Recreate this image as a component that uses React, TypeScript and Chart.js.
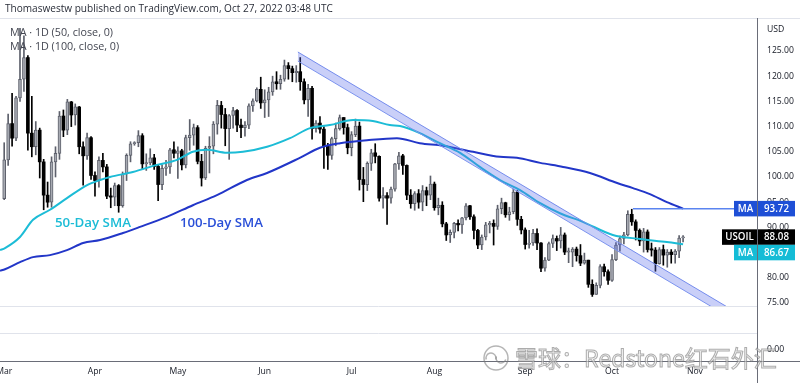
import React, { useEffect, useRef } from "react";
import { Chart, registerables } from "chart.js";

Chart.register(...registerables);

// ---------- DATA ----------
const OPEN = [
  95.7, 103.4, 110.6, 107.7, 115.7, 119.4, 123.7, 108.7, 106.0, 109.3,
  103.0, 96.4, 95.0, 103.0, 104.7, 112.1, 109.3, 114.9, 112.3, 113.9,
  106.0, 104.2, 107.8, 100.3, 99.3, 103.3, 102.0, 96.2, 96.0, 98.3,
  94.3, 100.6, 104.3, 106.6, 106.8, 108.2, 102.6, 102.8, 103.8, 102.1,
  98.5, 101.7, 102.0, 105.4, 104.7, 105.2, 102.4, 107.8, 108.3, 109.8,
  103.1, 99.8, 105.7, 106.1, 110.5, 114.2, 112.4, 109.6, 112.2, 113.2,
  110.3, 109.8, 110.3, 114.1, 115.1, 117.4, 114.7, 115.3, 116.9, 118.9,
  118.5, 119.4, 122.1, 121.5, 120.7, 120.9, 118.9, 115.3, 117.6, 109.6,
  110.7, 109.5, 106.2, 104.3, 107.6, 109.6, 111.8, 109.8, 105.8, 108.4,
  110.1, 99.5, 98.5, 102.7, 104.8, 104.1, 95.8, 96.3, 95.8, 97.6,
  102.6, 104.2, 102.3, 96.4, 94.7, 96.7, 95.0, 97.3, 96.4, 98.6,
  93.9, 94.4, 90.7, 88.5, 89.0, 90.8, 90.5, 91.9, 94.3, 92.1,
  89.4, 86.5, 88.1, 90.5, 90.8, 90.2, 93.7, 94.9, 92.5, 93.1,
  97.0, 91.6, 89.5, 86.6, 86.9, 88.8, 86.9, 81.9, 83.5, 86.8,
  87.8, 87.3, 88.5, 85.1, 85.1, 85.7, 84.4, 82.9, 83.5, 78.7,
  76.7, 78.5, 82.2, 81.2, 79.5, 83.6, 86.5, 87.8, 88.5, 92.6,
  91.1, 89.4, 87.3, 89.1, 85.6, 85.5, 82.8, 85.6, 84.5, 85.1,
  84.6, 85.3, 87.9,
];
const HIGH = [
  106.8, 112.5, 116.6, 116.0, 129.5, 128.0, 124.1, 116.0, 111.0, 109.7,
  103.5, 99.0, 104.0, 106.0, 113.0, 113.3, 115.4, 115.0, 114.5, 114.0,
  107.0, 108.7, 108.0, 101.0, 104.0, 104.7, 102.5, 97.8, 98.8, 98.5,
  101.0, 104.6, 107.0, 107.0, 109.2, 108.6, 104.6, 105.6, 104.5, 102.4,
  102.4, 103.3, 105.7, 107.0, 106.0, 105.5, 108.3, 111.4, 110.5, 110.2,
  104.5, 106.1, 108.0, 111.0, 115.2, 115.0, 113.6, 112.4, 113.8, 113.4,
  111.5, 111.0, 114.5, 115.5, 117.7, 119.8, 117.3, 117.8, 120.0, 120.9,
  120.2, 123.2, 122.7, 122.0, 122.1, 123.7, 119.5, 118.4, 118.0, 111.2,
  112.0, 110.0, 106.7, 107.9, 110.7, 112.3, 111.8, 110.5, 109.0, 111.5,
  110.9, 101.9, 103.0, 105.5, 106.6, 104.2, 97.9, 96.9, 98.0, 102.7,
  104.9, 104.5, 102.4, 97.5, 97.1, 97.5, 98.3, 98.0, 100.2, 99.0,
  95.8, 95.1, 91.0, 89.5, 91.0, 91.5, 92.0, 94.7, 94.4, 92.5,
  89.6, 88.5, 91.0, 91.2, 91.5, 94.4, 95.8, 95.0, 94.0, 97.6,
  97.3, 92.2, 89.9, 89.4, 89.6, 89.7, 87.0, 84.0, 87.1, 88.5,
  88.3, 90.0, 88.9, 85.9, 86.0, 86.1, 86.6, 84.9, 83.5, 79.6,
  79.0, 82.6, 82.7, 81.6, 84.6, 87.0, 88.3, 89.0, 93.3, 93.6,
  91.5, 89.7, 89.8, 89.5, 86.9, 86.0, 86.0, 86.5, 85.6, 85.6,
  85.6, 88.4, 88.4,
];
const LOW = [
  95.5, 102.3, 106.1, 107.2, 115.0, 117.0, 105.3, 104.0, 104.4, 99.8,
  93.5, 94.0, 94.0, 100.0, 103.5, 108.0, 108.4, 110.0, 110.3, 104.6,
  98.4, 103.5, 99.5, 96.2, 98.0, 101.0, 95.7, 93.9, 94.3, 93.0,
  94.0, 99.3, 103.0, 106.3, 106.0, 101.5, 101.3, 102.4, 101.5, 95.3,
  97.5, 100.3, 100.7, 103.8, 99.7, 101.4, 101.8, 105.3, 106.3, 102.6,
  98.2, 99.5, 100.8, 104.6, 108.5, 109.7, 106.2, 103.5, 109.7, 109.0,
  107.8, 108.1, 109.6, 113.0, 114.9, 113.6, 111.8, 112.0, 116.2, 117.4,
  117.4, 119.0, 119.4, 118.9, 118.8, 117.2, 114.5, 112.0, 107.5, 108.9,
  108.7, 101.7, 101.5, 103.5, 106.2, 109.3, 108.5, 104.6, 104.2, 108.0,
  97.4, 95.1, 97.3, 101.3, 102.8, 95.2, 93.8, 90.6, 94.8, 97.2,
  101.5, 100.5, 95.5, 93.8, 93.4, 93.8, 93.3, 94.3, 95.5, 93.4,
  92.5, 90.1, 87.4, 87.0, 87.9, 89.3, 88.8, 91.5, 91.6, 87.7,
  85.8, 85.6, 87.5, 88.9, 86.5, 89.6, 92.7, 92.0, 91.4, 92.7,
  90.4, 88.7, 85.7, 85.9, 86.4, 85.6, 81.2, 81.3, 83.4, 86.0,
  85.4, 85.9, 84.6, 83.0, 82.2, 83.3, 82.4, 82.7, 78.1, 76.3,
  76.7, 78.0, 80.3, 78.7, 79.3, 83.4, 85.3, 86.7, 88.3, 90.4,
  87.5, 86.4, 85.1, 85.1, 84.3, 81.3, 82.7, 82.5, 82.1, 82.9,
  82.9, 84.0, 87.1,
];
const CLOSE = [
  103.4, 110.6, 107.7, 115.7, 119.4, 123.7, 108.7, 106.0, 109.3, 103.0,
  96.4, 95.0, 103.0, 104.7, 112.1, 109.3, 114.9, 112.3, 113.9, 106.0,
  104.2, 107.8, 100.3, 99.3, 103.3, 102.0, 96.2, 96.0, 98.3, 94.3,
  100.6, 104.3, 106.6, 106.8, 108.2, 102.6, 102.8, 103.8, 102.1, 98.5,
  101.7, 102.0, 105.4, 104.7, 105.2, 102.4, 107.8, 108.3, 109.8, 103.1,
  99.8, 105.7, 106.1, 110.5, 114.2, 112.4, 109.6, 112.2, 113.2, 110.3,
  109.8, 110.3, 114.1, 115.1, 117.4, 114.7, 115.3, 116.9, 118.9, 118.5,
  119.4, 122.1, 121.5, 120.7, 120.9, 118.9, 115.3, 117.6, 109.6, 110.7,
  109.5, 106.2, 104.3, 107.6, 109.6, 111.8, 109.8, 105.8, 108.4, 110.1,
  99.5, 98.5, 102.7, 104.8, 104.1, 95.8, 96.3, 95.8, 97.6, 102.6,
  104.2, 102.3, 96.4, 94.7, 96.7, 95.0, 97.3, 96.4, 98.6, 93.9,
  94.4, 90.7, 88.5, 89.0, 90.8, 90.5, 91.9, 94.3, 92.1, 89.4,
  86.5, 88.1, 90.5, 90.8, 90.2, 93.7, 94.9, 92.5, 93.1, 97.0,
  91.6, 89.5, 86.6, 86.9, 88.8, 86.9, 81.9, 83.5, 86.8, 87.8,
  87.3, 88.5, 85.1, 85.1, 85.7, 84.4, 82.9, 83.5, 78.7, 76.7,
  78.5, 82.2, 81.2, 79.5, 83.6, 86.5, 87.8, 88.5, 92.6, 91.1,
  89.4, 87.3, 89.1, 85.6, 85.5, 82.8, 85.6, 84.5, 85.1, 84.6,
  85.3, 87.9, 88.08,
];

// 50-day SMA (cyan) read at bar positions
const SMA50_IDX = [-1.06, 0.2, 4.0, 7.3, 11.6, 15.9, 21.0, 24.3, 26.8, 32.6, 38.7, 43.8, 47.8, 51.4, 56.4, 60.5, 66.6, 72.4, 77.5, 82.5, 88.4, 93.4, 97.7, 100.3, 105.3, 110.4, 115.5, 120.5, 125.6, 130.7, 135.8, 140.8, 146.6, 154.2, 161.1, 167.9, 172];
const SMA50_VAL = [85.5, 85.9, 88.1, 91.5, 93.5, 95.8, 98.4, 99.4, 100.0, 101.0, 102.4, 103.4, 105.0, 105.4, 104.8, 105.0, 106.0, 107.7, 109.7, 110.3, 111.3, 111.1, 110.3, 110.1, 108.7, 106.7, 104.8, 102.0, 99.4, 97.4, 94.8, 92.8, 91.1, 88.5, 87.7, 87.1, 86.67];
// 100-day SMA (blue)
const SMA100_IDX = [-1.06, 0.2, 4.0, 7.3, 11.6, 15.9, 20.0, 24.3, 30.1, 34.4, 41.2, 47.8, 53.9, 61.5, 66.6, 74.9, 80.0, 85.1, 91.9, 99.5, 105.3, 111.2, 118.8, 125.6, 129.9, 135.8, 141.6, 148.4, 155.3, 159.3, 163.6, 167.9, 172];
const SMA100_VAL = [81.4, 81.7, 83.1, 84.1, 84.5, 85.5, 86.9, 87.5, 88.9, 90.1, 92.1, 94.4, 96.4, 99.4, 100.8, 103.8, 105.8, 106.7, 107.3, 107.7, 106.7, 106.2, 105.0, 104.0, 103.8, 102.8, 102.0, 100.8, 98.8, 97.8, 96.6, 95.0, 93.72];

// descending channel drawing
const CHANNEL_IDX = [74.4, 190];
const CHANNEL_UPPER = [124.8, 71.05];
const CHANNEL_LOWER = [123.0, 69.25];

// horizontal level line
const LEVEL_START_IDX = 159.3;
const LEVEL_VALUE = 93.72;

const LAST_PRICE = 88.08;
const SMA50_LAST = 86.67;
const SMA100_LAST = 93.72;

const MONTH_LABELS = ["Mar", "Apr", "May", "Jun", "Jul", "Aug", "Sep", "Oct", "Nov"];
const MONTH_IDX = [0, 23, 44, 66, 88, 109, 132, 154, 175];
const Y_TICKS = [75, 80, 85, 90, 95, 100, 105, 110, 115, 120, 125];

const HEADER = "Thomaswestw published on TradingView.com, Oct 27, 2022 03:48 UTC";
const LEGEND_1 = "MA · 1D (50, close, 0)";
const LEGEND_2 = "MA · 1D (100, close, 0)";
const WATERMARK = "雪球：Redstone红石外汇";

// ---------- STYLE ----------
const FAM = '"Open Sans", "Noto Sans", sans-serif';
const TXT = "#131722";
const CYAN = "#1cbcd6";
const BLUE = "#2236c8";
const UP_FILL = "#a7aab2";
const UP_LINE = "#5d606b";
const DOWN = "#000000";

function fitFont(ctx: CanvasRenderingContext2D, text: string, width: number, family: string, weight = "400") {
  ctx.font = `${weight} 20px ${family}`;
  const w = ctx.measureText(text).width;
  const s = (20 * width) / w;
  const f = `${weight} ${s.toFixed(2)}px ${family}`;
  ctx.font = f;
  return f;
}

function hline(ctx: CanvasRenderingContext2D, x0: number, x1: number, y: number, color: string, w = 1) {
  ctx.strokeStyle = color;
  ctx.lineWidth = w;
  ctx.beginPath();
  ctx.moveTo(x0, y);
  ctx.lineTo(x1, y);
  ctx.stroke();
}

const overlay = {
  id: "overlay",
  beforeDraw(chart: any) {
    const ctx = chart.ctx;
    ctx.save();
    ctx.fillStyle = "#ffffff";
    ctx.fillRect(0, 0, chart.width, chart.height);
    ctx.restore();
  },
  afterDraw(chart: any) {
    const ctx: CanvasRenderingContext2D = chart.ctx;
    const ca = chart.chartArea;
    const xs = chart.scales.x;
    const ys = chart.scales.y;
    ctx.save();

    // frame / pane lines
    hline(ctx, 0, 800, 18.5, "#e0e3eb");
    hline(ctx, 0, ca.right, 306.5, "#e0e3eb");
    hline(ctx, 0, ca.right, 333.5, "#e0e3eb");
    hline(ctx, 0, 800, 361.5, "#6a6d78");
    ctx.strokeStyle = "#6a6d78";
    ctx.beginPath();
    ctx.moveTo(ca.right + 0.5, 18);
    ctx.lineTo(ca.right + 0.5, 383);
    ctx.stroke();

    // header
    ctx.fillStyle = "#2a2e39";
    ctx.textAlign = "left";
    ctx.textBaseline = "middle";
    fitFont(ctx, HEADER, 328, FAM);
    ctx.fillText(HEADER, 5, 9);

    // legend
    ctx.fillStyle = "#434651";
    const lf = fitFont(ctx, LEGEND_1, 103, FAM);
    ctx.fillText(LEGEND_1, 10, 33);
    ctx.font = lf;
    ctx.fillText(LEGEND_2, 10, 46.5);

    // y axis labels
    const yf = fitFont(ctx, "125.00", 27, FAM);
    ctx.fillStyle = TXT;
    ctx.textAlign = "left";
    for (const v of Y_TICKS) {
      ctx.fillText(v.toFixed(2), ca.right + 10, ys.getPixelForValue(v));
    }
    ctx.fillText("USD", ca.right + 10, 30);
    ctx.fillText("0.00", ca.right + 10, 350);

    // x axis labels
    ctx.textAlign = "center";
    ctx.font = yf;
    MONTH_LABELS.forEach((m, k) => {
      ctx.fillText(m, xs.getPixelForValue(MONTH_IDX[k]), 372);
    });

    // annotations
    ctx.textAlign = "left";
    ctx.fillStyle = CYAN;
    fitFont(ctx, "50-Day SMA", 76, FAM, "600");
    ctx.fillText("50-Day SMA", 55, 223);
    ctx.fillStyle = "#2a4fd8";
    fitFont(ctx, "100-Day SMA", 83, FAM, "600");
    ctx.fillText("100-Day SMA", 180, 223);

    // level line
    const yLevel = ys.getPixelForValue(LEVEL_VALUE);
    hline(ctx, xs.getPixelForValue(LEVEL_START_IDX), ca.right - 23, yLevel, "#5a84f0", 1.5);

    // tags
    const tf = fitFont(ctx, "93.72", 25, FAM, "600");
    const tagH = 15.5;
    const drawTag = (x0: number, x1: number, top: number, bg: string, fg: string, text: string) => {
      ctx.fillStyle = bg;
      ctx.fillRect(x0, top, x1 - x0, tagH);
      ctx.fillStyle = fg;
      ctx.font = tf;
      ctx.textAlign = "center";
      ctx.textBaseline = "middle";
      ctx.fillText(text, (x0 + x1) / 2, top + tagH / 2 + 0.5);
    };
    const R = ca.right;
    const blueTop = ys.getPixelForValue(SMA100_LAST) - tagH / 2;
    drawTag(R - 23, R, blueTop, "#1e4fd6", "#ffffff", "MA");
    drawTag(R + 1, R + 38, blueTop, "#1e4fd6", "#ffffff", SMA100_LAST.toFixed(2));
    const lastTop = ys.getPixelForValue(LAST_PRICE) - tagH / 2;
    drawTag(R - 35, R, lastTop, "#000000", "#ffffff", "USOIL");
    drawTag(R + 1, R + 38, lastTop, "#000000", "#ffffff", LAST_PRICE.toFixed(2));
    let cyanTop = ys.getPixelForValue(SMA50_LAST) - tagH / 2;
    if (cyanTop < lastTop + tagH) cyanTop = lastTop + tagH;
    drawTag(R - 23, R, cyanTop, "#14bcd6", "#ffffff", "MA");
    drawTag(R + 1, R + 38, cyanTop, "#14bcd6", "#ffffff", SMA50_LAST.toFixed(2));

    // watermark
    ctx.strokeStyle = "rgba(120,120,120,0.55)";
    ctx.lineWidth = 1.5;
    ctx.beginPath();
    ctx.arc(496, 358, 12, 0, Math.PI * 2);
    ctx.stroke();
    ctx.beginPath();
    ctx.arc(491, 358, 5, Math.PI * 0.9, Math.PI * 2.1);
    ctx.stroke();
    ctx.beginPath();
    ctx.arc(501, 358, 5, Math.PI * 1.1, Math.PI * 0.1, true);
    ctx.stroke();
    ctx.textAlign = "left";
    ctx.textBaseline = "middle";
    fitFont(ctx, WATERMARK, 262, '"Noto Sans CJK SC", sans-serif');
    ctx.fillStyle = "rgba(240,240,240,0.55)";
    ctx.fillText(WATERMARK, 515, 358);
    ctx.lineWidth = 1;
    ctx.strokeStyle = "rgba(120,120,120,0.6)";
    ctx.strokeText(WATERMARK, 515, 358);

    ctx.restore();
  },
};

export default function App() {
  const ref = useRef<HTMLCanvasElement>(null);
  useEffect(() => {
    const canvas = ref.current;
    if (!canvas) return;
    const up = OPEN.map((o, i) => CLOSE[i] >= o);
    const wickData = HIGH.map((h, i) => ({ x: i, y: [LOW[i], h] }));
    const bodyData = OPEN.map((o, i) => {
      const c = CLOSE[i];
      const lo = Math.min(o, c);
      let hi = Math.max(o, c);
      if (hi - lo < 0.25) hi = lo + 0.25;
      return { x: i, y: [lo, hi] };
    });
    const chart = new Chart(canvas, {
      type: "bar",
      data: {
        datasets: [
          {
            type: "bar",
            data: wickData as any,
            barThickness: 1,
            grouped: false,
            backgroundColor: up.map((u) => (u ? UP_LINE : DOWN)),
            borderWidth: 0,
            order: 10,
          } as any,
          {
            type: "bar",
            data: bodyData as any,
            barThickness: 3,
            grouped: false,
            backgroundColor: up.map((u) => (u ? UP_FILL : DOWN)),
            borderColor: up.map((u) => (u ? UP_LINE : DOWN)),
            borderWidth: up.map((u) => (u ? 1 : 0)),
            borderSkipped: false,
            order: 9,
          } as any,
          {
            type: "line",
            data: SMA100_IDX.map((x, i) => ({ x, y: SMA100_VAL[i] })),
            borderColor: BLUE,
            borderWidth: 2,
            pointRadius: 0,
            cubicInterpolationMode: "monotone",
            fill: false,
            order: 6,
          } as any,
          {
            type: "line",
            data: SMA50_IDX.map((x, i) => ({ x, y: SMA50_VAL[i] })),
            borderColor: CYAN,
            borderWidth: 2,
            pointRadius: 0,
            cubicInterpolationMode: "monotone",
            fill: false,
            order: 5,
          } as any,
          {
            type: "line",
            data: CHANNEL_IDX.map((x, i) => ({ x, y: CHANNEL_UPPER[i] })),
            borderColor: "#7b93ee",
            borderWidth: 1,
            pointRadius: 0,
            fill: false,
            clip: { left: 0, top: 0, right: 0, bottom: -55 },
            order: 3,
          } as any,
          {
            type: "line",
            data: CHANNEL_IDX.map((x, i) => ({ x, y: CHANNEL_LOWER[i] })),
            borderColor: "#7b93ee",
            borderWidth: 1,
            pointRadius: 0,
            fill: "-1",
            backgroundColor: "rgba(90,110,235,0.33)",
            clip: { left: 0, top: 0, right: 0, bottom: -55 },
            order: 2,
          } as any,
        ],
      },
      options: {
        animation: false,
        responsive: false,
        maintainAspectRatio: false,
        devicePixelRatio: 1,
        events: [],
        layout: { padding: { left: 0, right: 43, top: 20, bottom: 22 } },
        plugins: {
          legend: { display: false },
          tooltip: { enabled: false },
        },
        scales: {
          x: { type: "linear", min: -1.064, max: 190.73, display: false, offset: false, grid: { display: false } },
          y: { type: "linear", min: 63.49, max: 131.15, display: false, beginAtZero: false, grid: { display: false } },
        },
      } as any,
      plugins: [overlay],
    });
    return () => chart.destroy();
  }, []);
  return (
    <div style={{ position: "fixed", left: 0, top: 0, width: 800, height: 383, background: "#fff" }}>
      <canvas ref={ref} width={800} height={383} style={{ display: "block", width: 800, height: 383 }} />
    </div>
  );
}
